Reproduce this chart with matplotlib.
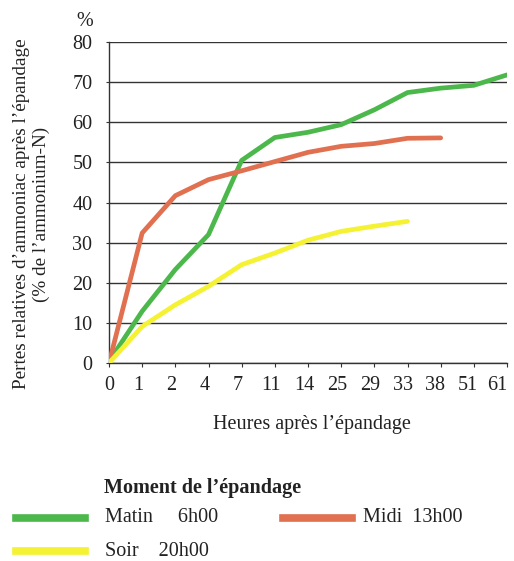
import matplotlib
matplotlib.use("Agg")
import matplotlib.pyplot as plt
import matplotlib.transforms as mtransforms
from matplotlib.lines import Line2D

hours = ["0", "1", "2", "4", "7", "11", "14", "25", "29", "33", "38", "51", "61"]
matin = [0.4, 12.9, 23.3, 32.0, 50.5, 56.2, 57.5, 59.4, 63.1, 67.4, 68.5, 69.2, 71.8]
midi = [0.0, 32.4, 41.7, 45.7, 47.9, 50.2, 52.5, 54.0, 54.7, 56.0, 56.1]
soir = [0.0, 9.1, 14.5, 19.1, 24.5, 27.4, 30.6, 32.8, 34.1, 35.3]
yticks = [0, 10, 20, 30, 40, 50, 60, 70, 80]

c_green = "#4cb84c"
c_red = "#e0704f"
c_yellow = "#f4f232"
c_text = "#222222"

plt.rcParams["font.family"] = ["Liberation Serif", "DejaVu Serif"]
fig = plt.figure(figsize=(5.14, 5.61), dpi=100)
W, H = 514, 561
ax = fig.add_axes([109 / W, 1 - 363 / H, (507 - 109) / W, (363 - 42) / H])

x = list(range(len(hours)))
ax.plot(x[:len(matin)], matin, color=c_green, lw=3.4, solid_capstyle="round", zorder=3)
ax.plot(x[:len(midi)], midi, color=c_red, lw=3.4, solid_capstyle="round", zorder=3)
ax.plot(x[:len(soir)], soir, color=c_yellow, lw=3.4, solid_capstyle="round", zorder=4)

ax.set_xlim(0, len(hours) - 1)
ax.set_ylim(0, 80)
ax.set_xticks(x)
ax.set_xticklabels(hours, fontsize=14.5)
ax.set_yticks(yticks)
ax.set_yticklabels([str(v) for v in yticks], fontsize=14.5)
ax.grid(axis="y", color="#333333", lw=1.0)
ax.set_axisbelow(True)
for s in ["top", "right"]:
    ax.spines[s].set_visible(False)
for s in ["left", "bottom"]:
    ax.spines[s].set_color("#333333")
    ax.spines[s].set_linewidth(1.0)
ax.tick_params(axis="x", direction="out", length=3, pad=6, color="#333333", labelcolor=c_text)
ax.tick_params(axis="y", direction="out", length=2, pad=10, color="#333333", labelcolor=c_text)

# slight leftward drift of the tick labels as in the reference
labels = ax.get_xticklabels()
for i, lab in enumerate(labels):
    if i == 0:
        continue
    if i == len(labels) - 1:
        lab.set_ha("right")
        continue
    shift = -4 if i < 10 else -6
    lab.set_transform(lab.get_transform() + mtransforms.ScaledTranslation(shift / 100, 0, fig.dpi_scale_trans))

fig.text(85 / W, 1 - 21 / H, "%", fontsize=14.5, ha="center", va="center", color=c_text)
fig.text(31.5 / W, 1 - 214 / H,
         "Pertes relatives d\u2019ammoniac apr\u00e8s l\u2019\u00e9pandage\n(% de l\u2019ammonium-N)",
         fontsize=13.8, rotation=90, ha="center", va="center", color=c_text, linespacing=1.15)
fig.text(312 / W, 1 - 425 / H, "Heures apr\u00e8s l\u2019\u00e9pandage", fontsize=14.5,
         ha="center", va="center", color=c_text)

fig.text(104 / W, 1 - 488 / H, "Moment de l\u2019\u00e9pandage", fontsize=14.5, fontweight="bold",
         ha="left", va="center", color=c_text)

def legend_item(x0, x1, y, color, label, tx):
    fig.add_artist(Line2D([x0 / W, x1 / W], [1 - y / H, 1 - y / H], color=color, lw=5.5,
                          transform=fig.transFigure))
    fig.text(tx / W, 1 - y / H, label, fontsize=14.5, ha="left", va="center", color=c_text)

legend_item(16, 85, 518, c_green, "Matin     6h00", 105)
legend_item(283, 352, 518, c_red, "Midi  13h00", 363)
legend_item(16, 85, 551, c_yellow, "Soir    20h00", 105)

fig.savefig("out.png", dpi=100)
